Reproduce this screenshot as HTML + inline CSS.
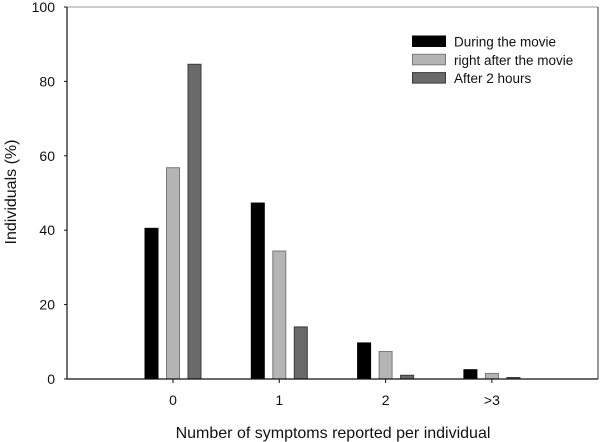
<!DOCTYPE html>
<html><head><meta charset="utf-8"><style>
html,body{margin:0;padding:0;background:#fff;width:600px;height:442px;overflow:hidden}
text{font-family:"Liberation Sans",Arial,sans-serif;fill:#111}
</style></head><body>
<svg id="chart" width="600" height="442" viewBox="0 0 600 442" xmlns="http://www.w3.org/2000/svg">
<g id="plot"></g>
</svg>
<script>
const categories = ["0","1","2",">3"];
const seriesNames = ["During the movie","right after the movie","After 2 hours"];
const duringMovie = [40.5, 47.3, 9.7, 2.5];
const rightAfter = [56.8, 34.4, 7.4, 1.5];
const after2h = [84.6, 14.0, 1.0, 0.4];
const yTicks = [0,20,40,60,80,100];
const seriesValues = [duringMovie, rightAfter, after2h];
const fills = ["#000000","#b4b4b4","#6a6a6a"];
const strokes = ["#000000","#7a7a7a","#3a3a3a"];
const L=67,R=598,T=7,B=379;
const x0=173, step=106.3;
function xScale(i){return x0+i*step;}
function yScale(v){return B-(v/100)*(B-T);}
const NS="http://www.w3.org/2000/svg";
const g=document.getElementById('plot');
function mk(tag,attrs,parent){const e=document.createElementNS(NS,tag);for(const k in attrs)e.setAttribute(k,attrs[k]);(parent||g).appendChild(e);return e;}
// frame
let e;
e=mk('line',{x1:L,y1:T,x2:R,y2:T,stroke:'#999','stroke-width':1});


e=mk('line',{x1:R,y1:T,x2:R,y2:B,stroke:'#333','stroke-width':1});


// bars
seriesValues.forEach((vals,s)=>{
  vals.forEach((v,i)=>{
    const cx=xScale(i)+(s-1)*21.5;
    const y=yScale(v);
    const r=mk('rect',{x:cx-6.5,y:y,width:13,height:B-y,fill:fills[s],stroke:strokes[s],'stroke-width':1});
    
    
  });
});
// axes
e=mk('line',{x1:L,y1:T,x2:L,y2:B,stroke:'#111','stroke-width':1.2});


e=mk('line',{x1:L,y1:B,x2:R,y2:B,stroke:'#111','stroke-width':1.2});


yTicks.forEach(t=>{
  const y=yScale(t);
  const l=mk('line',{x1:L-3,y1:y,x2:L,y2:y,stroke:'#111'});
  
  
  const tx=mk('text',{x:55,y:y+5,'text-anchor':'end','font-size':14});
  tx.textContent=t;
  
  
});
categories.forEach((c,i)=>{
  const x=xScale(i);
  const l=mk('line',{x1:x,y1:B,x2:x,y2:B+4,stroke:'#111'});
  
  
  const tx=mk('text',{x:x,y:405,'text-anchor':'middle','font-size':14});
  tx.textContent=c;
  
  
});
e=mk('text',{x:333,y:438,'text-anchor':'middle','font-size':16});
e.textContent='Number of symptoms reported per individual';


e=mk('text',{x:0,y:0,'text-anchor':'middle','font-size':16,transform:'translate(16,192) rotate(-90)'});
e.textContent='Individuals (%)';


// legend
seriesNames.forEach((n,s)=>{
  const y=36+s*18.3;
  const r=mk('rect',{x:412.5,y:y,width:33,height:10.5,fill:fills[s],stroke:strokes[s],'stroke-width':1});
  
  
  const t=mk('text',{x:454,y:y+10.5,'font-size':13.5});
  t.textContent=n;
  
  
});
</script>
</body></html>
